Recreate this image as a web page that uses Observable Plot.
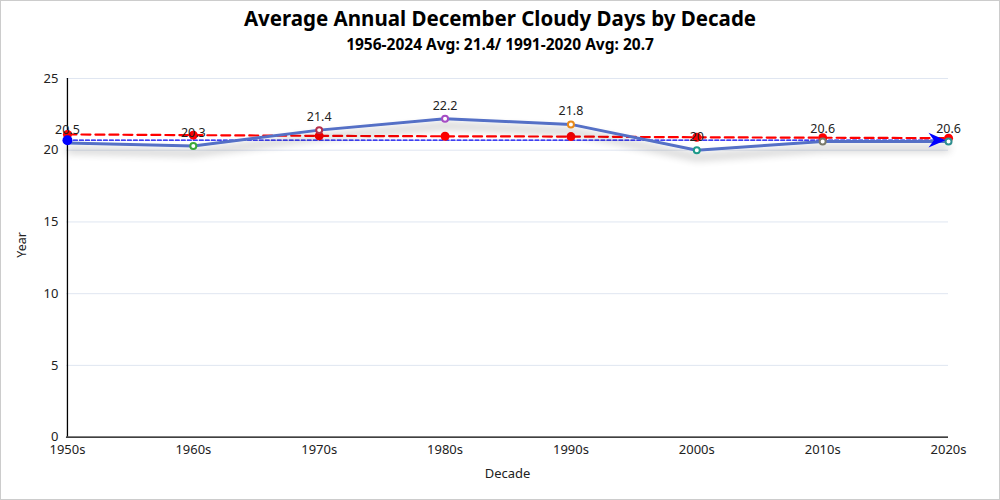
<!DOCTYPE html>
<html>
<head>
<meta charset="utf-8">
<script src="https://cdn.jsdelivr.net/npm/d3@7"></script>
<script src="https://cdn.jsdelivr.net/npm/@observablehq/plot@0.6"></script>
<style>
  html, body { margin: 0; padding: 0; background: #fff; }
  #wrap { position: relative; width: 1000px; height: 500px; box-sizing: border-box; border: 1px solid #ccc; overflow: hidden; font-family: "Noto Sans", "Open Sans", sans-serif; }
  #title { position: absolute; top: 3px; left: 0; width: 100%; text-align: center; font-size: 20.5px; font-weight: bold; color: #000; }
  #subtitle { position: absolute; top: 32px; left: 0; width: 100%; text-align: center; font-size: 15.5px; font-weight: bold; color: #000; }
  #chart { position: absolute; top: 59px; left: -1px; }
</style>
</head>
<body>
<div id="wrap">
  <div id="title">Average Annual December Cloudy Days by Decade</div>
  <div id="subtitle">1956-2024 Avg: 21.4/ 1991-2020 Avg: 20.7</div>
  <div id="chart"></div>
</div>
<script>
const decades = ["1950s", "1960s", "1970s", "1980s", "1990s", "2000s", "2010s", "2020s"];
const cloudyDays = [20.5, 20.3, 21.4, 22.2, 21.8, 20, 20.6, 20.6];
const trendValues = [21.1, 21.05, 21.0, 20.97, 20.95, 20.9, 20.87, 20.84];
const avg1991to2020 = 20.7;
const pointColors = ["#3b6fd9", "#3aa83a", "#b5304d", "#a64cc4", "#e88a1a", "#1d9a8a", "#7a7a6a", "#2f8f8f"];
const yTicks = [0, 5, 10, 15, 20, 25];
const mainColor = "#5470c6";

const rows = decades.map((d, i) => ({decade: d, value: cloudyDays[i], trend: trendValues[i], avg: avg1991to2020, color: pointColors[i]}));

const arrowSymbol = {
  draw(context, size) {
    const s = Math.sqrt(size);
    context.moveTo(0, 0);
    context.lineTo(-s * 1.6, -s * 0.7);
    context.lineTo(-s * 1.1, 0);
    context.lineTo(-s * 1.6, s * 0.7);
    context.closePath();
  }
};

const fontFam = '"Noto Sans", "Open Sans", sans-serif';

const chart = Plot.plot({
  width: 1000,
  height: 440,
  marginTop: 18,
  marginBottom: 63,
  marginLeft: 66,
  marginRight: 51,
  style: {fontFamily: fontFam, fontSize: "12.5px", color: "#222", background: "transparent"},
  x: {type: "point", domain: decades, padding: 0},
  y: {domain: [0, 25]},
  marks: [
    Plot.ruleY(yTicks.slice(1), {stroke: "#e0e6f1", strokeWidth: 1}),
    Plot.axisY({ticks: yTicks, tickSize: 0, tickPadding: 8, label: null, fill: "#222", fontSize: 13}),
    Plot.text(["Year"], {frameAnchor: "left", dx: -44, rotate: -90, text: d => d, fill: "#222", fontSize: 12.5}),
    Plot.axisX({tickSize: 0, tickPadding: 8, label: "Decade", labelAnchor: "center", labelOffset: 41, fill: "#222", fontSize: 13}),
    Plot.ruleY([0], {stroke: "#000", strokeWidth: 1.3}),
    Plot.ruleX([decades[0]], {y1: 0, y2: 25, stroke: "#000", strokeWidth: 1.3}),
    // 1991-2020 average line
    Plot.lineY(rows, {x: "decade", y: "avg", stroke: "#0000ee", strokeWidth: 1.2, strokeDasharray: "4,2"}),
    // trend dashed line
    Plot.lineY(rows, {x: "decade", y: "trend", stroke: "#ff0000", strokeWidth: 2.2, strokeDasharray: "9,5"}),
    Plot.dot(rows, {x: "decade", y: "trend", r: 4.5, fill: "#ff0000"}),
    // main series
    Plot.lineY(rows, {x: "decade", y: "value", stroke: mainColor, strokeWidth: 3}),
    Plot.dot(rows.slice(1), {x: "decade", y: "value", r: 3, fill: "#fff", stroke: "color", strokeWidth: 2}),
    // avg line end markers
    Plot.dot(rows.slice(0, 1), {x: "decade", y: "avg", r: 5, fill: "#0000ff"}),
    Plot.dot(rows.slice(-1), {x: "decade", y: "avg", r: 6, symbol: arrowSymbol, fill: "#0000ff", dx: -3}),
    Plot.text(rows, {x: "decade", y: "value", text: d => String(d.value), dy: -13, fill: "#222", fontSize: 12.5})
  ]
});

// drop shadow for the main line
const svg = d3.select(chart);
const defs = svg.insert("defs", ":first-child");
const f = defs.append("filter").attr("id", "lineShadow")
  .attr("filterUnits", "userSpaceOnUse")
  .attr("x", 0).attr("y", 0).attr("width", 1000).attr("height", 440);
f.append("feGaussianBlur").attr("in", "SourceAlpha").attr("stdDeviation", 4).attr("result", "blur");
f.append("feOffset").attr("in", "blur").attr("dx", 0).attr("dy", 7).attr("result", "off");
f.append("feComponentTransfer").attr("in", "off").attr("result", "shadow")
  .append("feFuncA").attr("type", "linear").attr("slope", 0.4);
const merge = f.append("feMerge");
merge.append("feMergeNode").attr("in", "shadow");
merge.append("feMergeNode").attr("in", "SourceGraphic");
svg.selectAll(`[stroke="${mainColor}"]`).attr("filter", "url(#lineShadow)");

document.getElementById("chart").appendChild(chart);
</script>
</body>
</html>
